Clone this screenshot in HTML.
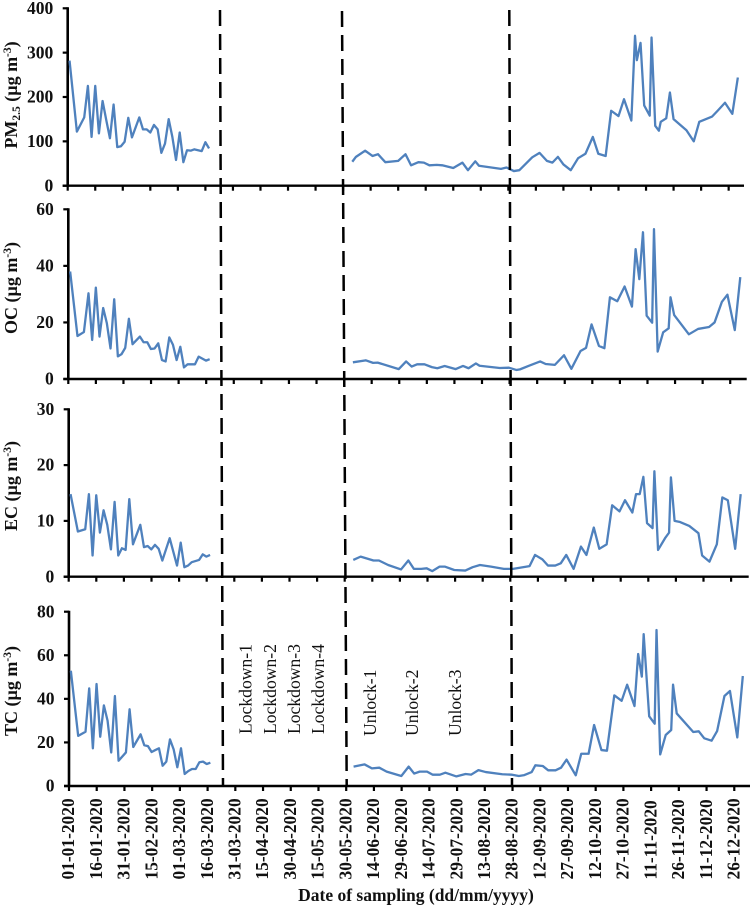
<!DOCTYPE html>
<html lang="en">
<head>
<meta charset="utf-8">
<title>Carbonaceous aerosol time series 2020</title>
<style>
html,body{margin:0;padding:0;background:#fff;}
svg{display:block;font-family:"Liberation Serif",serif;filter:blur(0.3px);}
.b{font-weight:bold;fill:#111;}
.a{font-size:17.6px;fill:#111;}
</style>
</head>
<body>
<svg id="chart" xmlns="http://www.w3.org/2000/svg" width="752" height="908" viewBox="0 0 752 908">
  <rect width="752" height="908" fill="#fff"/>
  <g id="panels"></g>
  <g stroke="#000" stroke-width="2.5" fill="none">
    <line x1="220" y1="10" x2="223" y2="786" stroke-dasharray="16 8"/>
    <line x1="342" y1="11" x2="346.7" y2="786" stroke-dasharray="16 8"/>
    <line x1="509.3" y1="10" x2="512" y2="786" stroke-dasharray="16 8"/>
  </g>
  <g class="a">
    <text transform="translate(251.7 734) rotate(-90)">Lockdown-1</text>
    <text transform="translate(276 734) rotate(-90)">Lockdown-2</text>
    <text transform="translate(300 734) rotate(-90)">Lockdown-3</text>
    <text transform="translate(324 734) rotate(-90)">Lockdown-4</text>
    <text transform="translate(376 736) rotate(-90)">Unlock-1</text>
    <text transform="translate(418 736) rotate(-90)">Unlock-2</text>
    <text transform="translate(461 736) rotate(-90)">Unlock-3</text>
  </g>
  <g class="b" font-size="18">
    <text transform="translate(17 95) rotate(-90)" text-anchor="middle">PM<tspan font-size="11.5" dy="3">2.5</tspan><tspan dy="-3"> (µg m</tspan><tspan font-size="11.5" dy="-6">-3</tspan><tspan dy="6">)</tspan></text>
    <text transform="translate(17 288) rotate(-90)" text-anchor="middle">OC (µg m<tspan font-size="11.5" dy="-6">-3</tspan><tspan dy="6">)</tspan></text>
    <text transform="translate(17 486) rotate(-90)" text-anchor="middle">EC (µg m<tspan font-size="11.5" dy="-6">-3</tspan><tspan dy="6">)</tspan></text>
    <text transform="translate(17 691) rotate(-90)" text-anchor="middle">TC (µg m<tspan font-size="11.5" dy="-6">-3</tspan><tspan dy="6">)</tspan></text>
  </g>
  <text class="b" x="416" y="901" font-size="17.5" text-anchor="middle">Date of sampling (dd/mm/yyyy)</text>
</svg>
<script>
const tickLabels = ['01-01-2020','16-01-2020','31-01-2020','15-02-2020','01-03-2020','16-03-2020','31-03-2020','15-04-2020','30-04-2020','15-05-2020','30-05-2020','14-06-2020','29-06-2020','14-07-2020','29-07-2020','13-08-2020','28-08-2020','12-09-2020','27-09-2020','12-10-2020','27-10-2020','11-11-2020','26-11-2020','11-12-2020','26-12-2020'];

const pmTicks = [0,100,200,300,400];
const ocTicks = [0,20,40,60];
const ecTicks = [0,10,20,30];
const tcTicks = [0,20,40,60,80];

const pmDays = [1,5,9,11,13,15,17,19,21,23,25,27,29,31,33,35,39,41,43,45,47,49,51,53,55,57,59,61,63,65,67,69,73,75,77,155,157,162,166,169,173,180,184,187,191,194,197,201,204,210,215,218,222,224,236,239,241,243,246,253,257,261,264,267,270,274,278,282,286,289,293,296,300,303,307,309,310,312,314,317,318,320,322,323,326,328,330,337,341,344,351,354,358,362,365];
const pmValues = [282,122,154,225,110,225,118,191,148,107,183,87,89,99,153,109,154,127,127,120,137,127,74,95,150,110,58,120,53,80,79,82,78,98,84,54,65,79,67,71,53,56,71,46,53,52,46,47,46,40,52,35,55,45,38,41,37,33,35,64,74,56,52,65,48,35,62,72,110,72,67,169,157,195,147,338,283,322,181,158,334,135,124,144,152,210,150,125,100,144,156,169,187,162,244];

const ocDays = [1,5,8.5,11,13,15,17,19,21,23,25,27,29,31,33,35,39,41,43,45,47,49,51,53,55,57,59,61,63,65,69,71,75,77,155,162,166,168.5,180,184,187,190,194,198,201,205,211,215,218,222,224,235,240,244,246,251,257,260,265,270,274,279,282,285,289,292,295,299,303,307,309,311,313,315,318,319,321,324,327,328,330,338,343,349,352,356,359,363,366];
const ocValues = [38,15.2,16.6,30.3,13.8,32.3,15,25.1,19.7,10.8,28.2,8,8.8,11,21.3,12.3,15,13,13,10.6,10.8,12.6,6.7,6.2,14.7,12.1,6.7,11.4,4.1,5.2,5.2,7.9,6.5,7,5.9,6.6,5.7,5.8,3.5,6.2,4.4,5.2,5.2,4.2,3.8,4.6,3.5,4.6,3.8,5.5,4.7,3.9,4,3.2,3.4,4.7,6.2,5.3,5,8.4,3.6,9.9,11,19.3,11.7,10.9,28.9,27.5,32.7,25.6,45.9,35.3,51.9,22.4,19.9,53,9.7,16.5,17.9,28.9,22.6,15.8,17.7,18.4,20,27.3,29.8,17.3,36];

const ecDays = [1,5,9,11,13,15,17,19,21,23,25,27,29,31,33,35,39,41,43,45,47,49,51,55,59,61,63,65,67,71,73,75,77,155,159,166,169,174,181,185,188,192,195,198,202,205,210,216,220,224,230,237,242,251,254,258,261,265,268,271,275,279,282,286,289,293,296,300,303,307,309,311,313,315,318,319,321,325,327,328,330,333,338,343,345,349,353,356,359,363,366];
const ecValues = [14.8,8.1,8.5,14.8,3.8,14.6,7.9,11.9,9.3,4.9,13.4,3.8,5.1,4.8,13.9,5.8,9.3,5.3,5.5,4.9,5.7,5,2.9,6.9,2,6.1,1.7,2,2.6,3,4,3.6,3.9,3,3.6,2.9,2.9,2.1,1.3,2.9,1.4,1.4,1.5,1,1.8,1.8,1.2,1.1,1.7,2.1,1.8,1.4,1.4,1.9,3.9,3.1,2,2,2.4,3.9,1.4,5.4,3.9,8.8,5,5.8,12.8,11.7,13.7,11.5,14.8,14.8,17.9,9.6,8.7,18.9,4.8,7,7.9,17.8,10,9.8,9.1,7.8,3.8,2.7,5.8,14.2,13.7,5,14.8];

const tcDays = [1,5,9,11,13,15,17,19,21,23,25,27,31,33,35,39,41,43,45,47,49,51,53,55,57,59,61,63,65,67,69,71,73,75,77,155,161,165,169,173,181,185,188,191,195,198,202,205,211,216,219,223,227,236,241,245,248,252,254,258,261,265,268,271,276,279,283,286,290,293,297,301,304,308,310,312,313,316,319,320,322,325,328,329,331,340,343,346,350,353,357,360,364,367];
const tcValues = [52.9,23,24.9,44.8,17.3,46.8,22.6,37,30,15.4,41.3,11.6,15.4,35.2,17.9,23.7,18.7,18.3,15.6,16.5,17.3,9.3,11.2,21.4,16.8,8.6,17.3,5.5,6.9,7.8,7.8,10.9,11.2,10.1,10.7,8.9,9.9,8.1,8.4,6.6,4.6,8.9,5.7,6.6,6.6,5.2,5.2,6.1,4.4,5.5,5.2,7.3,6.4,5.4,5.2,4.6,5,6.4,9.5,9.2,7.2,7.2,8.4,12.1,4.9,14.8,14.8,28,16.5,16.2,41.6,39.1,46.5,36.7,60.6,50.2,69.7,32,28.6,71.6,14.5,23.4,25.7,46.5,33.3,24.8,25.1,21.9,20.8,25.2,41.3,43.6,22.3,50.5];

const NS = 'http://www.w3.org/2000/svg';
const root = document.getElementById('panels');
const DAY_PX = 1.836;

function make(tag, parent, attrs) {
  const el = document.createElementNS(NS, tag);
  for (const k in attrs) el.setAttribute(k, attrs[k]);
  parent.appendChild(el);
  return el;
}

function drawPanel(name, days, values, yTicks, x0, yTop, y0, xEnd, tickStep, showLabels) {
  const yMax = yTicks[yTicks.length - 1];
  const xScale = d => x0 + d * DAY_PX;
  const yScale = v => y0 - (v / yMax) * (y0 - yTop);

  const g = make('g', root, {});
  
  

  const yAxis = make('line', g, {x1: x0, y1: yTop - 1, x2: x0, y2: y0 + 1, stroke: '#000', 'stroke-width': 2.6});
  
  

  const xAxis = make('line', g, {x1: x0 - 5, y1: y0, x2: xEnd, y2: y0, stroke: '#000', 'stroke-width': 2.4});
  
  

  yTicks.forEach(t => {
    const y = yScale(t);
    const mark = make('line', g, {x1: x0 - 5, y1: y, x2: x0, y2: y, stroke: '#000', 'stroke-width': 2.2});
    
    
    const label = make('text', g, {x: x0 - 14.5, y: y + 5.6, 'text-anchor': 'end', 'font-size': 17.5, class: 'b'});
    
    
    label.textContent = t;
  });

  tickLabels.forEach((t, i) => {
    const x = x0 + i * tickStep;
    const mark = make('line', g, {x1: x, y1: y0, x2: x, y2: y0 + 5, stroke: '#000', 'stroke-width': 2.2});
    
    
    if (showLabels) {
      const label = make('text', g, {transform: 'translate(' + (x + 5.2) + ' 879.5) rotate(-90)', 'font-size': 17.4, class: 'b'});
      
      
      label.textContent = t;
    }
  });

  let d = '';
  days.forEach((day, i) => {
    const gap = i === 0 || day - days[i - 1] > 30;
    d += (gap ? 'M' : 'L') + xScale(day).toFixed(2) + ' ' + yScale(values[i]).toFixed(2);
  });
  const line = make('path', g, {d: d, fill: 'none', stroke: '#4f81bd', 'stroke-width': 2.3, 'stroke-linejoin': 'round'});
  
  
}

drawPanel('pm25', pmDays, pmValues, pmTicks, 67.7, 8.3, 185.7, 744, 27.54, false);
drawPanel('oc', ocDays, ocValues, ocTicks, 68.3, 209.3, 379, 746.7, 27.58, false);
drawPanel('ec', ecDays, ecValues, ecTicks, 68.7, 409.3, 576.7, 748.7, 27.6, false);
drawPanel('tc', tcDays, tcValues, tcTicks, 69, 611.7, 786, 750, 27.72, true);
</script>
</body>
</html>
